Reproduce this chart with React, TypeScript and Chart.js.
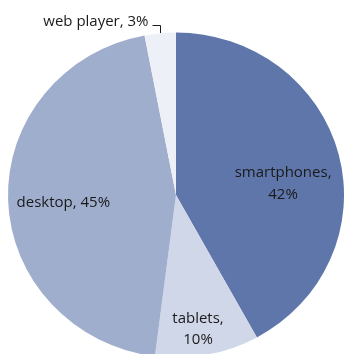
import React, { useEffect, useRef } from "react";
import { Chart, registerables } from "chart.js";

Chart.register(...registerables);

// ---- data ----
const categories = ["smartphones", "tablets", "desktop", "web player"];
const shares = [42, 10, 45, 3];
const sliceColors = ["#5E76AA", "#D0D7E8", "#A0AECE", "#EEF0F7"];
// label layout (Excel-style placement): wrap after comma, radial fraction, angle nudge (deg), outside
const labelWrap = [true, true, false, false];
const labelFrac = [0.642, 0.829, 0.672, 1];
const labelAngleNudge = [7.5, 1.7, -1.4, 0];
const labelOutside = [false, false, false, true];

// horizontal stretch of the pie (reference is slightly elliptical)
const SX = 168 / 162.5;
const FONT = "15px 'Open Sans'";
const TEXT_COLOR = "#1a1a1a";
const LINE_H = 21.5;
const CAP_H = 11;

const stretchPlugin = {
  id: "stretch",
  beforeDatasetsDraw(chart: any) {
    const a = chart.chartArea;
    const cx = (a.left + a.right) / 2;
    const ctx = chart.ctx;
    ctx.save();
    ctx.translate(cx, 0);
    ctx.scale(SX, 1);
    ctx.translate(-cx, 0);
  },
  afterDatasetsDraw(chart: any) {
    chart.ctx.restore();
  },
};

const labelPlugin = {
  id: "sliceLabels",
  afterDraw(chart: any) {
    const ctx = chart.ctx;
    const meta = chart.getDatasetMeta(0);
    ctx.save();
    ctx.font = FONT;
    ctx.fillStyle = TEXT_COLOR;
    meta.data.forEach((arc: any, i: number) => {
      const { x, y, startAngle, endAngle, outerRadius } = arc.getProps(
        ["x", "y", "startAngle", "endAngle", "outerRadius"],
        true
      );
      const mid = (startAngle + endAngle) / 2;
      const text = `${categories[i]}, ${shares[i]}%`;
      if (labelOutside[i]) {
        const ex = x + outerRadius * SX * Math.cos(mid);
        const ey = y + outerRadius * Math.sin(mid);
        const lx = Math.round(ex) + 0.5;
        const ly = Math.round(ey - 8) + 0.5;
        ctx.strokeStyle = TEXT_COLOR;
        ctx.lineWidth = 1;
        ctx.beginPath();
        ctx.moveTo(lx, Math.round(ey));
        ctx.lineTo(lx, ly);
        ctx.lineTo(lx - 8, ly);
        ctx.stroke();
        ctx.textAlign = "right";
        ctx.textBaseline = "alphabetic";
        ctx.fillText(text, lx - 12, ly + 0.5);
        return;
      }
      const ang = mid + (labelAngleNudge[i] * Math.PI) / 180;
      const ax = x + labelFrac[i] * outerRadius * SX * Math.cos(ang);
      const ay = y + labelFrac[i] * outerRadius * Math.sin(ang);
      const lines = labelWrap[i]
        ? [`${categories[i]},`, `${shares[i]}%`]
        : [text];
      ctx.textAlign = "center";
      ctx.textBaseline = "alphabetic";
      lines.forEach((ln, k) => {
        const by = ay + (k - (lines.length - 1) / 2) * LINE_H + CAP_H / 2;
        ctx.fillText(ln, ax, by);
      });
    });
    ctx.restore();
  },
};

export default function App() {
  const ref = useRef<HTMLCanvasElement | null>(null);
  useEffect(() => {
    if (!ref.current) return;
    const chart = new Chart(ref.current, {
      type: "pie",
      data: {
        labels: categories,
        datasets: [
          {
            data: shares,
            backgroundColor: sliceColors,
            borderWidth: 0,
            hoverOffset: 0,
          },
        ],
      },
      options: {
        animation: false,
        responsive: true,
        maintainAspectRatio: false,
        events: [],
        layout: { padding: { left: 13.5, right: 5.5, top: 32.5, bottom: 2.5 } },
        plugins: {
          legend: { display: false },
          tooltip: { enabled: false },
        },
      },
      plugins: [stretchPlugin, labelPlugin],
    });
    return () => chart.destroy();
  }, []);
  return (
    <div
      style={{
        position: "fixed",
        left: 0,
        top: 0,
        width: 344,
        height: 354,
        overflow: "hidden",
        background: "#ffffff",
      }}
    >
      <div style={{ position: "relative", width: 344, height: 360 }}>
        <canvas ref={ref} />
      </div>
    </div>
  );
}
